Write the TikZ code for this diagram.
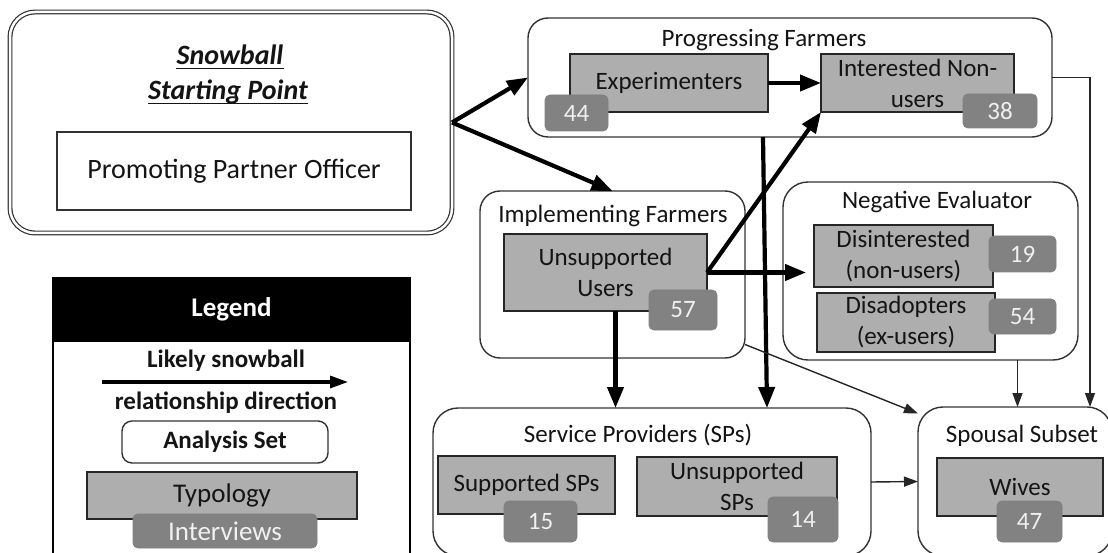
\documentclass[tikz,border=0pt]{standalone}
\usepackage{fontspec}
\setmainfont{Carlito}
\usetikzlibrary{arrows.meta}
\definecolor{boxgray}{RGB}{174,174,174}
\definecolor{badgegray}{RGB}{130,130,130}
\definecolor{edgegray}{RGB}{50,50,50}
\definecolor{txt}{RGB}{20,20,20}
\begin{document}
\begin{tikzpicture}[x=1pt,y=-1pt,
  cont/.style={draw=edgegray,line width=1.4pt,rounded corners=20pt,inner sep=0pt,outer sep=0pt},
  typ/.style={draw=black!85,fill=boxgray,line width=1.6pt,inner sep=0pt,outer sep=0pt,align=center,text=txt,font=\fontsize{25}{31}\selectfont},
  badge/.style={draw=black!50,fill=badgegray,line width=0.8pt,rounded corners=5pt,inner sep=0pt,text=white!94!black,font=\fontsize{25}{31}\selectfont},
  ttl/.style={anchor=base,inner sep=0pt,text=txt,font=\fontsize{25}{31}\selectfont},
  bigarrow/.style={line width=4.2pt,-{Triangle[length=21pt,width=16pt]}},
  smallarrow/.style={line width=1.4pt,draw=black!85,-{Triangle[length=14pt,width=10pt]}},
]
\useasboundingbox (0,0) rectangle (1108,553);
\clip (0,0) rectangle (1108,553);

% Snowball starting point
\node[cont,double=white,double distance=2.5pt,line width=1.2pt,rounded corners=25pt,minimum width=442pt,minimum height=221pt] (sb) at (231,122.5) {};
\node[anchor=base,inner sep=0pt,text=txt,font=\bfseries\itshape\fontsize{28}{34}\selectfont] (snow1) at (230,65) {Snowball};
\node[anchor=base,inner sep=0pt,text=txt,font=\bfseries\itshape\fontsize{28}{34}\selectfont] (snow2) at (228,100) {Starting Point};
\draw[line width=1.5pt,txt] ([yshift=-3.5pt]snow1.base west) -- ([yshift=-3.5pt]snow1.base east);
\draw[line width=1.5pt,txt] ([yshift=-3.5pt]snow2.base west) -- ([yshift=-3.5pt]snow2.base east);
\node[draw=edgegray,line width=1.6pt,minimum width=354pt,minimum height=78pt,inner sep=0pt,font=\fontsize{28}{34}\selectfont,text=txt] (ppo) at (234,171) {Promoting Partner Officer};

% Progressing farmers
\node[cont,minimum width=524pt,minimum height=119pt] (pf) at (790,77.5) {};
\node[ttl] (pft) at (764,47) {Progressing Farmers};
\node[typ,minimum width=198pt,minimum height=58pt] (exp) at (669,83) {Experimenters};
\node[badge,minimum width=63pt,minimum height=36pt] (b44) at (576.5,113) {44};
\node[typ,minimum width=193pt,minimum height=58pt] (int) at (917.5,83) {Interested Non-\\users};
\node[badge,minimum width=74pt,minimum height=34pt] (b38) at (1000,111) {38};

% Implementing farmers
\node[cont,minimum width=265pt,minimum height=167pt] (imp) at (612.5,274.5) {};
\node[ttl] (impt) at (613,223) {Implementing Farmers};
\node[typ,minimum width=203pt,minimum height=77pt] (uu) at (605.5,272.5) {Unsupported\\Users};
\node[badge,minimum width=68pt,minimum height=40pt] (b57) at (683,310) {57};

% Negative evaluator
\node[cont,rounded corners=25pt,minimum width=295pt,minimum height=178pt] (neg) at (930.5,271) {};
\node[ttl] (negt) at (937,209) {Negative Evaluator};
\node[typ,minimum width=179pt,minimum height=62pt] (dis) at (903.5,256) {Disinterested\\(non-users)};
\node[badge,minimum width=67pt,minimum height=36pt] (b19) at (1022.5,254) {19};
\node[typ,minimum width=178pt,minimum height=59pt] (dad) at (906,322.5) {Disadopters\\(ex-users)};
\node[badge,minimum width=67pt,minimum height=35pt] (b54) at (1022.5,316.5) {54};

% Service providers
\node[cont,rounded corners=25pt,minimum width=438pt,minimum height=148pt] (sp) at (652,482) {};
\node[ttl] (spt) at (638,442) {Service Providers (SPs)};
\node[typ,minimum width=177pt,minimum height=58pt] (ssp) at (526.5,485) {Supported SPs};
\node[badge,minimum width=73pt,minimum height=41pt] (b15) at (540.5,521.5) {15};
\node[typ,minimum width=200pt,minimum height=59pt] (usp) at (737,486.5) {Unsupported\\SPs};
\node[badge,minimum width=70pt,minimum height=45pt] (b14) at (803,519.5) {14};

% Spousal subset
\node[cont,rounded corners=25pt,minimum width=194pt,minimum height=149pt] (ss) at (1015,481.5) {};
\node[ttl] (sst) at (1022,442) {Spousal Subset};
\node[typ,minimum width=166pt,minimum height=58pt] (wv) at (1020,487) {Wives};
\node[badge,minimum width=65pt,minimum height=41pt] (b47) at (1029.5,521.5) {47};

% Connectors
\draw[bigarrow] (sb.east) -- (pf.west);
\draw[bigarrow] (sb.east) -- (imp.north);
\draw[bigarrow] (exp.east) -- (int.west);
\draw[bigarrow] (uu.east) -- (int.south west);
\draw[bigarrow,shorten >=8pt] (uu.east) -- (uu.east -| dis.west);
\draw[bigarrow] ([xshift=10pt]uu.south) -- ([xshift=10pt]uu.south |- sp.north);
\draw[bigarrow] ([xshift=-27pt]pf.south) -- ([xshift=115pt]sp.north);
\draw[smallarrow] (pf.east) -| ([xshift=75pt]ss.north);
\draw[smallarrow] ([xshift=87pt]neg.south) -- ([xshift=87pt]neg.south |- ss.north);
\draw[smallarrow] ([yshift=-70pt]imp.east) -- ([yshift=68pt]ss.west);
\draw[smallarrow] (sp.east) -- (ss.west);

% Legend
\node[draw=black,line width=1.4pt,minimum width=357pt,minimum height=278pt,inner sep=0pt] (leg) at (231.5,417) {};
\node[fill=black,draw=black,line width=1.4pt,minimum width=357pt,minimum height=63pt,inner sep=0pt,text=white,font=\bfseries\fontsize{27}{31}\selectfont] (legh) at (231.5,309.5) {Legend};
\node[anchor=base,inner sep=0pt,text=txt,font=\bfseries\fontsize{25}{31}\selectfont] (l1) at (226,367) {Likely snowball};
\coordinate (la) at (102,382);
\coordinate (lb) at (348,382);
\draw[line width=3.2pt,-{Triangle[length=18pt,width=12pt]}] (la) -- (lb);
\node[anchor=base,inner sep=0pt,text=txt,font=\bfseries\fontsize{25}{31}\selectfont] (l2) at (226,409) {relationship direction};
\node[cont,rounded corners=10pt,minimum width=206pt,minimum height=42pt,text=txt,font=\bfseries\fontsize{25}{31}\selectfont] (las) at (225,442) {Analysis Set};
\node[typ,minimum width=270pt,minimum height=47pt,font=\fontsize{27}{31}\selectfont] (lty) at (222,495.5) {Typology};
\node[badge,minimum width=184pt,minimum height=34pt,font=\fontsize{27}{31}\selectfont] (liv) at (225,531) {Interviews};
\end{tikzpicture}
\end{document}
